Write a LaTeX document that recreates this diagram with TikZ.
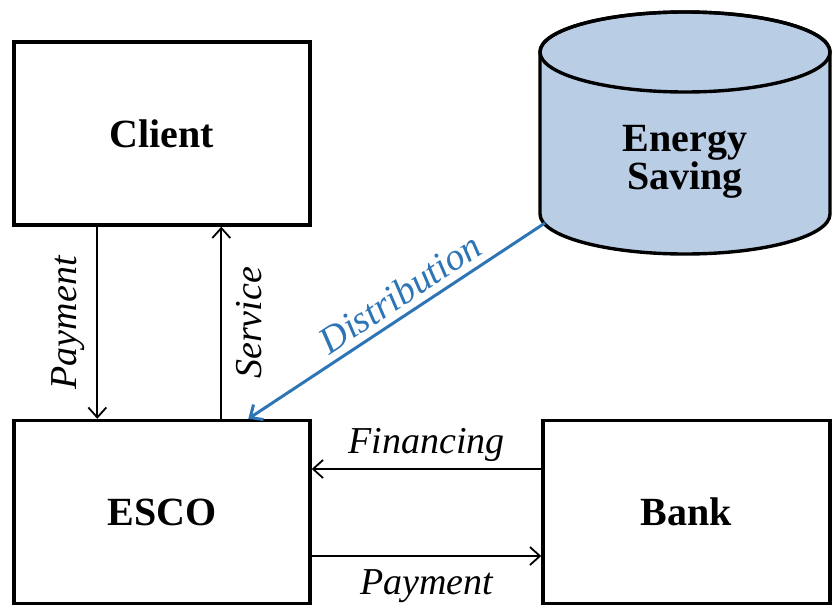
\documentclass[tikz,border=0pt]{standalone}
\usepackage{fontspec}
\setmainfont{Liberation Serif}
\usetikzlibrary{arrows.meta}
\definecolor{flowblue}{RGB}{46,117,182}
\definecolor{savingfill}{RGB}{185,205,229}

\begin{document}
\begin{tikzpicture}[x=0.5pt,y=-0.5pt,
  box/.style={draw,line width=1.7pt,minimum width=148pt,minimum height=91.5pt,
    font=\bfseries\fontsize{20}{18}\selectfont},
  flow/.style={line width=0.9pt,-{Straight Barb[length=5pt,width=9pt]}},
  lbl/.style={font=\itshape\fontsize{19}{21}\selectfont}]
\useasboundingbox (0,0) rectangle (833,610);

\node[box] (client) at (162,133.5) {Client};
\node[box] (esco) at (162,512) {ESCO};
\node[box,minimum width=143.5pt] (bank) at (686.5,512) {Bank};

% energy saving tank
\filldraw[fill=savingfill,line width=1.7pt] (540,52) -- (540,214)
  arc[start angle=180,end angle=360,x radius=72.5pt,y radius=20pt] -- (830,52)
  arc[start angle=0,end angle=180,x radius=72.5pt,y radius=20pt] -- cycle;
\draw[line width=1.7pt] (685,52) ellipse[x radius=72.5pt,y radius=20pt];
\node[align=center,font=\bfseries\fontsize{20}{18}\selectfont] (saving) at (685,162) {Energy\\Saving};
\coordinate (saving foot) at (545,223);

% client <-> esco
\draw[flow] ([xshift=42.5pt]client.south west) -- node[midway,lbl,rotate=90,anchor=south,inner ysep=6pt] {Payment} ([xshift=42.5pt]esco.north west);
\draw[flow] ([xshift=104.5pt]esco.north west) -- node[midway,lbl,rotate=90,anchor=north,inner ysep=7pt] {Service} ([xshift=104.5pt]client.south west);

% saving -> esco
\draw[flow,flowblue,line width=1.5pt] (saving foot) -- node[pos=0.45,sloped,above,lbl,text=flowblue] {Distribution} ([xshift=118pt]esco.north west);

% esco <-> bank
\draw[flow] ([yshift=21.5pt]bank.west) -- node[midway,above,lbl] {Financing} ([yshift=21.5pt]esco.east);
\draw[flow] ([yshift=-22pt]esco.east) -- node[midway,below,lbl,yshift=-3pt] {Payment} ([yshift=-22pt]bank.west);
\end{tikzpicture}
\end{document}
